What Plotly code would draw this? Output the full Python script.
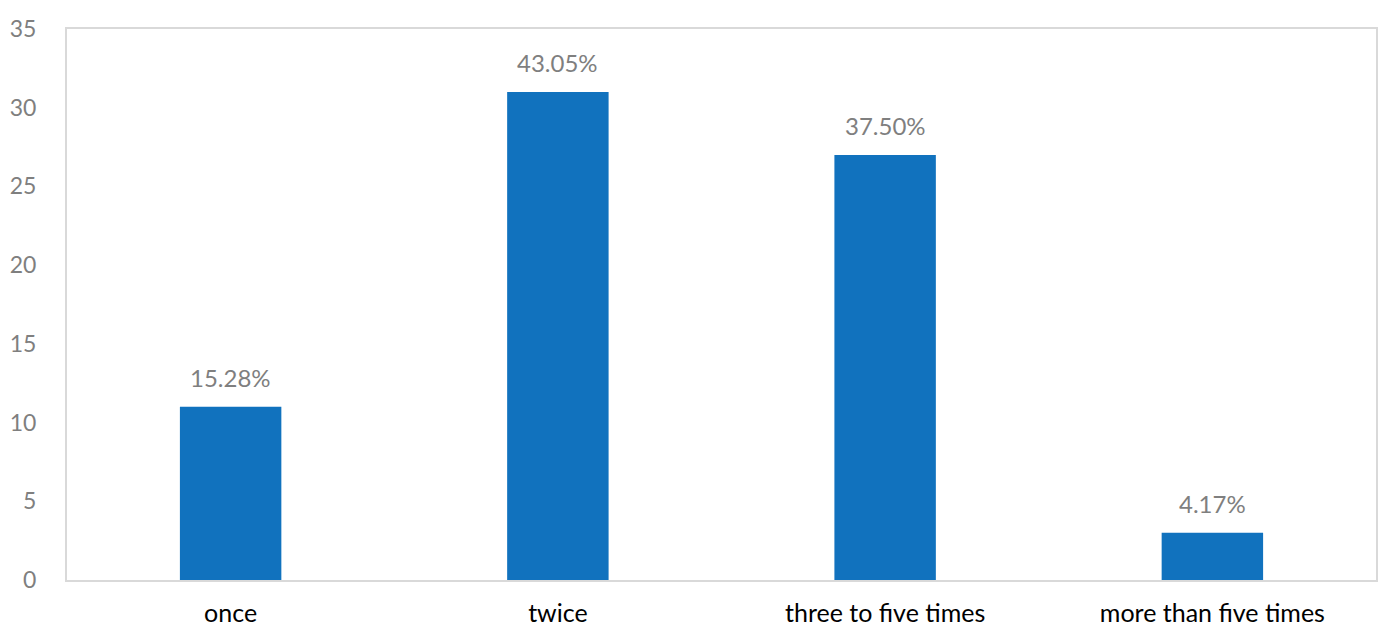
import plotly.graph_objects as go

categories = ["once", "twice", "three to five times", "more than five times"]
counts = [11, 31, 27, 3]
pct_labels = ["15.28%", "43.05%", "37.50%", "4.17%"]
y_ticks = [0, 5, 10, 15, 20, 25, 30, 35]

FONT = "Lato, Open Sans, sans-serif"

fig = go.Figure(go.Bar(
    x=categories, y=counts,
    marker=dict(color="#1172BE", line=dict(width=0)),
    width=0.31,
))

for c, v, t in zip(categories, counts, pct_labels):
    fig.add_annotation(
        x=c, y=v, text=t, showarrow=False, yanchor="bottom", yshift=13,
        font=dict(family=FONT, size=24, color="#7f7f7f"),
    )

fig.update_layout(
    width=1396, height=642,
    margin=dict(l=67, r=20, t=29, b=62),
    plot_bgcolor="white", paper_bgcolor="white",
    showlegend=False,
    font=dict(family=FONT),
)
fig.update_xaxes(
    showline=True, linecolor="#d9d9d9", linewidth=2, mirror=True,
    tickfont=dict(size=25, color="black"), ticks="", showgrid=False,
    automargin=False, ticklabelstandoff=10,
)
fig.update_yaxes(
    range=[0, 35], tickvals=y_ticks, showline=True, linecolor="#d9d9d9",
    linewidth=2, mirror=True, showgrid=False, zeroline=False,
    tickfont=dict(size=23, color="#7f7f7f"), ticks="", ticklabelstandoff=24,
    automargin=False,
)

fig.write_html("out.html", config={"displayModeBar": False})

with open("out.html", "r", encoding="utf-8") as f:
    html = f.read()
html = html.replace("<head>", "<head><style>html,body{margin:0;padding:0;}</style>", 1)
with open("out.html", "w", encoding="utf-8") as f:
    f.write(html)
